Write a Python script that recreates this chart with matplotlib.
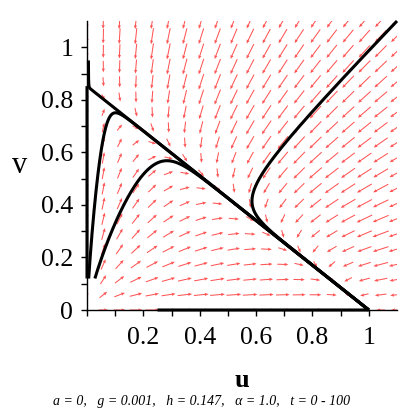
import numpy as np
import matplotlib
matplotlib.use('Agg')
import matplotlib.pyplot as plt

plt.rcParams['font.family'] = ['Liberation Serif', 'DejaVu Serif']

# model parameters (from the caption)
a = 0.0
g = 0.001
h = 0.147
alpha = 1.0
t_end = 100.0

# initial conditions of the drawn trajectories
u_start = [0.0, 0.005, 0.006, 0.028, 0.25, 1.1]
v_start = [0.12, 0.95, 0.12, 0.12, 0.0, 1.1]

# axes range and ticks
u_range = (0.0, 1.1)
v_range = (0.0, 1.1)
u_ticks = [0.0, 0.1, 0.2, 0.3, 0.4, 0.5, 0.6, 0.7, 0.8, 0.9, 1.0]
u_ticklabels = ['', '', '0.2', '', '0.4', '', '0.6', '', '0.8', '', '1']
v_ticks = [0.0, 0.1, 0.2, 0.3, 0.4, 0.5, 0.6, 0.7, 0.8, 0.9, 1.0]
v_ticklabels = ['0', '', '0.2', '', '0.4', '', '0.6', '', '0.8', '', '1']
n_grid = 20

caption = 'a = 0,   g = 0.001,   h = 0.147,   \u03b1 = 1.0,   t = 0 - 100'


def rhs(u, v):
    du = u * (1 - u - alpha * v) - a * u
    dv = v * (1 - v - alpha * u) - (h + g) * v
    return du, dv


def integrate(u0, v0, t1, dt=0.01):
    u = np.array(u0, dtype=float)
    v = np.array(v0, dtype=float)
    us, vs = [u.copy()], [v.copy()]
    for _ in range(int(t1 / dt)):
        k1 = rhs(u, v)
        k2 = rhs(u + dt / 2 * k1[0], v + dt / 2 * k1[1])
        k3 = rhs(u + dt / 2 * k2[0], v + dt / 2 * k2[1])
        k4 = rhs(u + dt * k3[0], v + dt * k3[1])
        u = u + dt / 6 * (k1[0] + 2 * k2[0] + 2 * k3[0] + k4[0])
        v = v + dt / 6 * (k1[1] + 2 * k2[1] + 2 * k3[1] + k4[1])
        us.append(u.copy())
        vs.append(v.copy())
    return np.array(us), np.array(vs)


W, H = 403, 411
fig = plt.figure(figsize=(W / 100, H / 100), dpi=100)
ax = fig.add_axes([87 / W, 101 / H, 310 / W, 289 / H])

# direction field
gu, gv = np.meshgrid(np.linspace(*u_range, n_grid), np.linspace(*v_range, n_grid))
du, dv = rhs(gu, gv)
mag = np.hypot(du, dv)
mag_safe = np.where(mag == 0, 1, mag)
length_px = np.minimum(17.0, 16.0 * (mag / 0.3) ** 0.33)
length = length_px / 275.0
ax.quiver(gu, gv, du / mag_safe * length, dv / mag_safe * length,
          angles='xy', scale_units='xy', scale=1, pivot='middle',
          color='#ff1a1a', alpha=0.75, width=0.0033,
          headwidth=3.2, headlength=3.8, headaxislength=3.4, zorder=1)

# trajectories
us, vs = integrate(u_start, v_start, t_end)
for i in range(len(u_start)):
    ax.plot(us[:, i], vs[:, i], color='black', lw=2.2, zorder=3,
            solid_capstyle='butt', clip_on=False)

ax.set_xlim(*u_range)
ax.set_ylim(*v_range)
for side in ['top', 'right']:
    ax.spines[side].set_visible(False)
for side in ['left', 'bottom']:
    ax.spines[side].set_linewidth(1.0)
    ax.spines[side].set_zorder(2)

ax.set_xticks(u_ticks)
ax.set_xticklabels(u_ticklabels)
ax.set_yticks(v_ticks)
ax.set_yticklabels(v_ticklabels)
ax.tick_params(axis='both', direction='out', length=4, width=1, labelsize=18.5)
ax.tick_params(axis='x', pad=8)
ax.tick_params(axis='y', pad=6)

fig.text(241.5 / W, 1 - 387 / H, 'u', ha='center', va='baseline',
         fontsize=19, fontweight='bold')
fig.text(19.5 / W, 1 - 173 / H, 'v', ha='center', va='baseline',
         fontsize=22)
fig.text(202 / W, 1 - 405 / H, caption, ha='center', va='baseline',
         fontsize=10, style='italic')

fig.savefig('out.png', dpi=100, facecolor='white')
